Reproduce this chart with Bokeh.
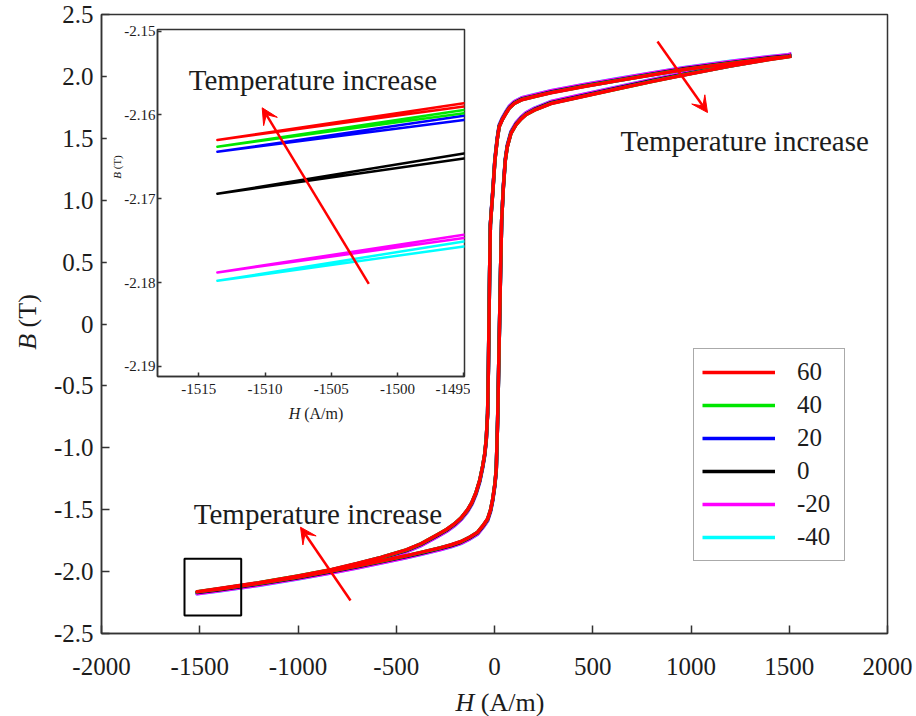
from bokeh.plotting import figure
from bokeh.models import (Range1d, FixedTicker, Label, Arrow, VeeHead, BoxAnnotation,
                          Legend, LegendItem, Div)
from bokeh.embed import file_html
from bokeh.resources import INLINE

# ---------------- data ----------------
temps = ["60", "40", "20", "0", "-20", "-40"]
colors = ["#ff0000", "#00e600", "#0000ff", "#000000", "#ff00ff", "#00ffff"]

# descending branch (from +saturation to -saturation), H in A/m, B in T (60 degC curve)
H_desc = [1511, 1495, 1400, 1200, 966, 800, 629, 450, 288, 200,
          140, 101, 75, 58, 40, 24, 14, 2, -8, -15,
          -21, -25, -28, -31, -35,
          -42, -50, -60, -75, -94, -115, -137, -170, -205, -245,
          -289, -375, -450, -578, -700, -833, -1000, -1200, -1400, -1495,
          -1513.6]
B_desc_60 = [2.1630, 2.1590, 2.144, 2.105, 2.055, 2.012, 1.966, 1.917, 1.868, 1.835,
             1.812, 1.781, 1.742, 1.700, 1.650, 1.593, 1.490, 1.320, 1.080, 0.930,
             0.800, 0.400, 0.030, -0.350, -0.720,
             -0.930, -1.050, -1.145, -1.260, -1.360, -1.440, -1.500, -1.565, -1.615, -1.660,
             -1.700, -1.775, -1.825, -1.885, -1.935, -1.985, -2.035, -2.090, -2.137, -2.1586,
             -2.1630]

# ascending branch (from -saturation to +saturation)
H_asc = [-1513.6, -1495, -1400, -1200, -1000, -833, -700, -578, -450, -375,
         -273, -220, -171, -125, -86, -55, -35, -20, -9, 2,
         9,
         16, 21, 26, 31, 36.5,
         45, 55, 65, 84, 110, 135, 160, 203, 288, 450,
         629, 800, 966, 1200, 1400, 1495, 1511]
B_asc_60 = [-2.1630, -2.1590, -2.140, -2.095, -2.043, -1.995, -1.955, -1.915, -1.872, -1.845,
            -1.806, -1.783, -1.757, -1.720, -1.681, -1.620, -1.574, -1.500, -1.413, -1.290,
            -1.170,
            -0.770, -0.370, 0.030, 0.440, 0.840,
            1.100, 1.320, 1.430, 1.540, 1.610, 1.655, 1.690, 1.727, 1.781, 1.838,
            1.900, 1.958, 2.012, 2.083, 2.137, 2.1586, 2.1630]

# differences of each temperature from the 60 degC curve, T
dB_desc = {
    "60": [0.0] * 46,
    "40": [0.0008, 0.0008, 0.0008, 0.0008, 0.0008, 0.0008, 0.0008, 0.0008, 0.0008, 0.0008,
           0.0008, 0.0008, 0.0008, 0.0008, 0.0008, 0.0008, 0.0008, 0.0008, 0.0008, 0.0008,
           0.0, 0.0, 0.0, 0.0, 0.0,
           -0.0008, -0.0008, -0.0008, -0.0008, -0.0008, -0.0008, -0.0008, -0.0008, -0.0008, -0.0008,
           -0.0008, -0.0008, -0.0008, -0.0008, -0.0008, -0.0008, -0.0008, -0.0008, -0.0008, -0.0008,
           -0.0008],
    "20": [0.0015, 0.0015, 0.0015, 0.0015, 0.0015, 0.0015, 0.0015, 0.0015, 0.0015, 0.0015,
           0.0015, 0.0015, 0.0015, 0.0015, 0.0015, 0.0015, 0.0015, 0.0015, 0.0015, 0.0015,
           0.0, 0.0, 0.0, 0.0, 0.0,
           -0.0015, -0.0015, -0.0015, -0.0015, -0.0015, -0.0015, -0.0015, -0.0015, -0.0015, -0.0015,
           -0.0015, -0.0015, -0.0015, -0.0015, -0.0015, -0.0015, -0.0015, -0.0015, -0.0015, -0.0015,
           -0.0014],
    "0": [0.0062, 0.0060, 0.0060, 0.0060, 0.0060, 0.0060, 0.0060, 0.0060, 0.0060, 0.0060,
          0.0060, 0.0060, 0.0060, 0.0060, 0.0060, 0.0060, 0.0060, 0.0060, 0.0060, 0.0060,
          0.0, 0.0, 0.0, 0.0, 0.0,
          -0.0060, -0.0060, -0.0060, -0.0060, -0.0060, -0.0060, -0.0060, -0.0060, -0.0060, -0.0060,
          -0.0060, -0.0060, -0.0060, -0.0060, -0.0060, -0.0060, -0.0060, -0.0060, -0.0060, -0.0060,
          -0.0064],
    "-20": [0.0158, 0.0157, 0.0157, 0.0157, 0.0157, 0.0157, 0.0157, 0.0157, 0.0157, 0.0157,
            0.0157, 0.0157, 0.0157, 0.0157, 0.0157, 0.0157, 0.0157, 0.0157, 0.0157, 0.0157,
            0.0, 0.0, 0.0, 0.0, 0.0,
            -0.0157, -0.0157, -0.0157, -0.0157, -0.0157, -0.0157, -0.0157, -0.0157, -0.0157, -0.0157,
            -0.0157, -0.0157, -0.0157, -0.0157, -0.0157, -0.0157, -0.0157, -0.0157, -0.0157, -0.0157,
            -0.0158],
    "-40": [0.0168, 0.0165, 0.0165, 0.0165, 0.0165, 0.0165, 0.0165, 0.0165, 0.0165, 0.0165,
            0.0165, 0.0165, 0.0165, 0.0165, 0.0165, 0.0165, 0.0165, 0.0165, 0.0165, 0.0165,
            0.0, 0.0, 0.0, 0.0, 0.0,
            -0.0165, -0.0165, -0.0165, -0.0165, -0.0165, -0.0165, -0.0165, -0.0165, -0.0165, -0.0165,
            -0.0165, -0.0165, -0.0165, -0.0165, -0.0165, -0.0165, -0.0165, -0.0165, -0.0165, -0.0165,
            -0.0168],
}
dB_asc = {
    "60": [0.0] * 43,
    "40": [-0.0008, -0.0008, -0.0008, -0.0008, -0.0008, -0.0008, -0.0008, -0.0008, -0.0008, -0.0008,
           -0.0008, -0.0008, -0.0008, -0.0008, -0.0008, -0.0008, -0.0008, -0.0008, -0.0008, -0.0008,
           -0.0008,
           0.0, 0.0, 0.0, 0.0, 0.0,
           0.0008, 0.0008, 0.0008, 0.0008, 0.0008, 0.0008, 0.0008, 0.0008, 0.0008, 0.0008,
           0.0008, 0.0008, 0.0008, 0.0008, 0.0008, 0.0008, 0.0008],
    "20": [-0.0014, -0.0016, -0.0016, -0.0016, -0.0016, -0.0016, -0.0016, -0.0016, -0.0016, -0.0016,
           -0.0016, -0.0016, -0.0016, -0.0016, -0.0016, -0.0016, -0.0016, -0.0016, -0.0016, -0.0016,
           -0.0016,
           0.0, 0.0, 0.0, 0.0, 0.0,
           0.0016, 0.0016, 0.0016, 0.0016, 0.0016, 0.0016, 0.0016, 0.0016, 0.0016, 0.0016,
           0.0016, 0.0016, 0.0016, 0.0016, 0.0016, 0.0016, 0.0014],
    "0": [-0.0064, -0.0062, -0.0062, -0.0062, -0.0062, -0.0062, -0.0062, -0.0062, -0.0062, -0.0062,
          -0.0062, -0.0062, -0.0062, -0.0062, -0.0062, -0.0062, -0.0062, -0.0062, -0.0062, -0.0062,
          -0.0062,
          0.0, 0.0, 0.0, 0.0, 0.0,
          0.0062, 0.0062, 0.0062, 0.0062, 0.0062, 0.0062, 0.0062, 0.0062, 0.0062, 0.0062,
          0.0062, 0.0062, 0.0062, 0.0062, 0.0062, 0.0062, 0.0062],
    "-20": [-0.0158, -0.0157, -0.0157, -0.0157, -0.0157, -0.0157, -0.0157, -0.0157, -0.0157, -0.0157,
            -0.0157, -0.0157, -0.0157, -0.0157, -0.0157, -0.0157, -0.0157, -0.0157, -0.0157, -0.0157,
            -0.0157,
            0.0, 0.0, 0.0, 0.0, 0.0,
            0.0157, 0.0157, 0.0157, 0.0157, 0.0157, 0.0157, 0.0157, 0.0157, 0.0157, 0.0157,
            0.0157, 0.0157, 0.0157, 0.0157, 0.0157, 0.0157, 0.0158],
    "-40": [-0.0168, -0.0167, -0.0167, -0.0167, -0.0167, -0.0167, -0.0167, -0.0167, -0.0167, -0.0167,
            -0.0167, -0.0167, -0.0167, -0.0167, -0.0167, -0.0167, -0.0167, -0.0167, -0.0167, -0.0167,
            -0.0167,
            0.0, 0.0, 0.0, 0.0, 0.0,
            0.0167, 0.0167, 0.0167, 0.0167, 0.0167, 0.0167, 0.0167, 0.0167, 0.0167, 0.0167,
            0.0167, 0.0167, 0.0167, 0.0167, 0.0167, 0.0167, 0.0168],
}

x_ticks = [-2000, -1500, -1000, -500, 0, 500, 1000, 1500, 2000]
x_tick_labels = ["-2000", "-1500", "-1000", "-500", "0", "500", "1000", "1500", "2000"]
y_ticks = [-2.5, -2.0, -1.5, -1.0, -0.5, 0.0, 0.5, 1.0, 1.5, 2.0, 2.5]
y_tick_labels = ["-2.5", "-2.0", "-1.5", "-1.0", "-0.5", "0", "0.5", "1.0", "1.5", "2.0", "2.5"]
ix_ticks = [-1515, -1510, -1505, -1500, -1495]
ix_tick_labels = ["-1515", "-1510", "-1505", "-1500", "-1495"]
iy_ticks = [-2.19, -2.18, -2.17, -2.16, -2.15]
iy_tick_labels = ["-2.19", "-2.18", "-2.17", "-2.16", "-2.15"]

annotation_text = "Temperature increase"
x_title_html = "<i>H</i> (A/m)"
y_title_html = "<i>B</i> (T)"

# ---------------- geometry ----------------
SERIF = "Liberation Serif"
TXT = "#1c1c1c"
FRAME_L, FRAME_W, FRAME_T, FRAME_H = 101, 786, 14, 619
X0, X1, Y0, Y1 = -2000, 2000, -2.5, 2.5


def mx(px):
    return X0 + (px - FRAME_L) / FRAME_W * (X1 - X0)


def my(py):
    return Y1 - (py - FRAME_T) / FRAME_H * (Y1 - Y0)


IN_LEFT, IN_TOP = 106, 22
IF_L, IF_W, IF_T, IF_H = 157, 307, 29, 347
IX0, IX1, IY0, IY1 = -1518.12, -1494.95, -2.19122, -2.1498


def ix(px):
    return IX0 + (px - IF_L) / IF_W * (IX1 - IX0)


def iy(py):
    return IY1 - (py - IF_T) / IF_H * (IY1 - IY0)


def curve(t):
    hh = H_desc + H_asc
    bb = ([b + d for b, d in zip(B_desc_60, dB_desc[t])] +
          [b + d for b, d in zip(B_asc_60, dB_asc[t])])
    return hh, bb


def style_axes(fig, size, tick_in, lw):
    for ax in (fig.xaxis[0], fig.yaxis[0]):
        ax.major_tick_in = tick_in
        ax.major_tick_out = 0
        ax.minor_tick_line_color = None
        ax.axis_line_color = "#333333"
        ax.axis_line_width = lw
        ax.major_tick_line_color = "#333333"
        ax.major_tick_line_width = lw
        ax.major_label_text_font = SERIF
        ax.major_label_text_font_size = size
        ax.major_label_text_color = TXT


def title_div(html, left, top, w, h, size, rotate=False, z=6):
    st = {"position": "absolute", "left": f"{left}px", "top": f"{top}px",
          "font-family": f"'{SERIF}', serif", "font-size": f"{size}px", "color": TXT,
          "text-align": "center", "line-height": f"{h}px", "white-space": "nowrap",
          "z-index": str(z)}
    if rotate:
        st["transform"] = "rotate(-90deg)"
        st["transform-origin"] = "50% 50%"
    return Div(text=html, width=w, height=h, margin=0, styles=st)


# ---------------- main figure ----------------
p = figure(frame_width=FRAME_W, frame_height=FRAME_H,
           x_range=Range1d(X0, X1), y_range=Range1d(Y0, Y1),
           min_border_left=FRAME_L, min_border_right=28,
           min_border_top=FRAME_T, min_border_bottom=82,
           output_backend="svg", toolbar_location=None)
p.styles = {"position": "absolute", "left": "0px", "top": "0px"}
p.grid.visible = False
p.background_fill_color = "white"
p.border_fill_color = "white"
p.outline_line_color = "#333333"
p.outline_line_width = 1.5
style_axes(p, "25px", 8, 1.5)
p.xaxis.ticker = FixedTicker(ticks=x_ticks)
p.yaxis.ticker = FixedTicker(ticks=y_ticks)
p.xaxis.major_label_overrides = dict(zip(x_ticks, x_tick_labels))
p.yaxis.major_label_overrides = dict(zip(y_ticks, y_tick_labels))
p.xaxis.major_label_standoff = 24
p.yaxis.major_label_standoff = 8

renderers = {}
for t, c in reversed(list(zip(temps, colors))):
    hh, bb = curve(t)
    renderers[t] = p.line(hh, bb, line_color=c, line_width=3.5, line_join="round")

legend = Legend(items=[LegendItem(label=t, renderers=[renderers[t]]) for t in temps],
                location=(592, 72), orientation="vertical",
                padding=8, spacing=3, glyph_width=73, glyph_height=30,
                label_height=30, label_width=39, label_standoff=22,
                label_text_font=SERIF, label_text_font_size="25px",
                label_text_color=TXT, border_line_color="#555555",
                border_line_width=1.5, background_fill_alpha=1.0,
                background_fill_color="white")
p.add_layout(legend)

# zoom marker box
p.add_layout(BoxAnnotation(left=mx(184), right=mx(240.7), top=my(558.3), bottom=my(615),
                           fill_alpha=0, line_color="black", line_alpha=1.0, line_width=2))

# annotations
for (tx, ty) in [(620, 140), (193.3, 513.3)]:
    p.add_layout(Label(x=mx(tx), y=my(ty), text=annotation_text, text_font=SERIF,
                       text_font_size="29px", text_color=TXT, text_align="left",
                       text_baseline="middle"))
for (x0, y0, x1, y1) in [(657, 41, 707, 112), (350, 600, 300, 526.7)]:
    p.add_layout(Arrow(x_start=mx(x0), y_start=my(y0), x_end=mx(x1), y_end=my(y1),
                       line_color="red", line_width=2.5,
                       end=VeeHead(size=16, line_color="red", fill_color="red", line_width=1)))

# ---------------- inset figure ----------------
q = figure(frame_width=IF_W, frame_height=IF_H,
           x_range=Range1d(IX0, IX1), y_range=Range1d(IY0, IY1),
           min_border_left=IF_L - IN_LEFT, min_border_right=6,
           min_border_top=IF_T - IN_TOP, min_border_bottom=48,
           output_backend="svg", toolbar_location=None)
q.styles = {"position": "absolute", "left": f"{IN_LEFT}px", "top": f"{IN_TOP}px", "z-index": "5"}
q.grid.visible = False
q.background_fill_color = "white"
q.border_fill_color = "white"
q.outline_line_color = "#333333"
q.outline_line_width = 1.5
style_axes(q, "15px", 4, 1.5)
q.xaxis.ticker = FixedTicker(ticks=ix_ticks)
q.yaxis.ticker = FixedTicker(ticks=iy_ticks)
q.xaxis.major_label_overrides = dict(zip(ix_ticks, ix_tick_labels))
q.yaxis.major_label_overrides = dict(zip(iy_ticks, iy_tick_labels))
q.xaxis.major_label_standoff = 7
q.yaxis.major_label_standoff = 2

for t, c in reversed(list(zip(temps, colors))):
    hh, bb = curve(t)
    q.line(hh, bb, line_color=c, line_width=2.5, line_join="round")

q.add_layout(Label(x=ix(188.3), y=iy(79.3), text=annotation_text, text_font=SERIF,
                   text_font_size="29px", text_color=TXT, text_align="left", text_baseline="middle"))
q.add_layout(Arrow(x_start=ix(368.3), y_start=iy(283.3), x_end=ix(261.7), y_end=iy(107.3),
                   line_color="red", line_width=2.5,
                   end=VeeHead(size=16, line_color="red", fill_color="red", line_width=1)))

# ---------------- axis titles (italic symbol + upright unit) ----------------
d_main_x = title_div(x_title_html, 400, 688, 200, 30, 26)
d_main_y = title_div(y_title_html, 28 - 45, 322 - 15, 90, 30, 26, rotate=True)
d_in_x = title_div(x_title_html, 266, 404, 100, 20, 16)
d_in_y = title_div(y_title_html, 117 - 20, 167 - 8, 40, 16, 11, rotate=True)

open("out.html", "w").write(file_html([p, q, d_main_x, d_main_y, d_in_x, d_in_y], INLINE))
